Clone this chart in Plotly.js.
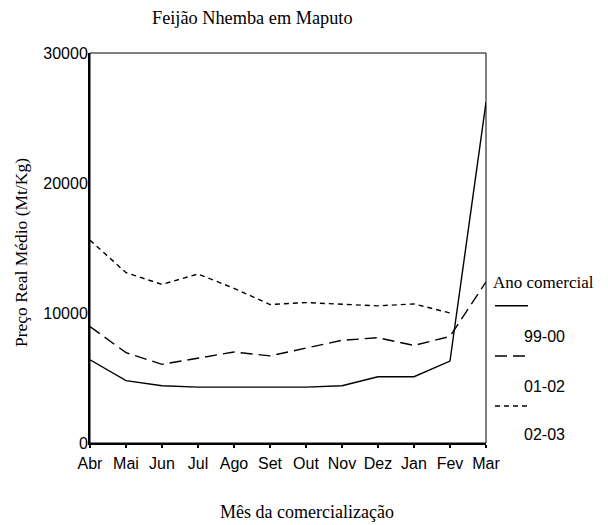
<!DOCTYPE html>
<html>
<head>
<meta charset="utf-8">
<script src="https://cdn.plot.ly/plotly-3.0.1.min.js"></script>
<style>html,body{margin:0;padding:0;background:#fff;}#chart{width:608px;height:525px;}</style>
</head>
<body>
<div id="chart"></div>
<script>
const months = ['Abr','Mai','Jun','Jul','Ago','Set','Out','Nov','Dez','Jan','Fev','Mar'];
const seriesNames = ['99-00','01-02','02-03'];
const s9900 = [6400, 4800, 4400, 4300, 4300, 4300, 4300, 4400, 5100, 5100, 6300, 26200];
const s0102 = [8950, 6950, 6050, 6500, 7000, 6700, 7300, 7900, 8100, 7500, 8200, 12400];
const s0203 = [15600, 13100, 12200, 13000, 11900, 10650, 10800, 10700, 10550, 10700, 10000, null];
const yTicks = [0, 10000, 20000, 30000];
const dashes = ['solid', '12px,6px', '5px,4px'];

const serif = '"Liberation Serif", "Times New Roman", serif';
const sans = '"Liberation Sans", Arial, sans-serif';

const xIdx = months.map((m, i) => i);
const data = [s9900, s0102, s0203].map((vals, k) => ({
  type: 'scatter', mode: 'lines', name: seriesNames[k],
  x: xIdx, y: vals,
  line: {color: '#000', width: 1.4, dash: dashes[k]},
  connectgaps: false, showlegend: false
}));

// Legend drawn manually (paper coords)
const legendTextY = [0.2726, 0.146, 0.023];
const legendLineY = [0.352, 0.223, 0.0949];
const shapes = [{type: 'rect', xref: 'paper', yref: 'paper', x0: 0, x1: 1, y0: 0, y1: 1, line: {color: '#000', width: 1}}];
const annotations = [{
  text: 'Ano comercial', xref: 'paper', yref: 'paper', x: 1.0126, y: 0.4128,
  xanchor: 'left', yanchor: 'middle', showarrow: false, font: {family: serif, size: 17, color: '#000'}
}, {
  text: 'Mês da comercialização', xref: 'paper', yref: 'paper', x: (307 - 90) / 396, y: (443 - 512) / 390,
  xanchor: 'center', yanchor: 'middle', showarrow: false, font: {family: serif, size: 18, color: '#000'}
}, {
  text: 'Preço Real Médio (Mt/Kg)', xref: 'paper', yref: 'paper', x: (21 - 90) / 396, y: (443 - 253) / 390,
  xanchor: 'center', yanchor: 'middle', textangle: -90, showarrow: false, font: {family: serif, size: 17.5, color: '#000'}
}];
seriesNames.forEach((n, k) => {
  shapes.push({type: 'line', xref: 'paper', yref: 'paper', x0: 1.0227, x1: 1.106,
    y0: legendLineY[k], y1: legendLineY[k], line: {color: '#000', width: 1.4, dash: dashes[k]}});
  annotations.push({text: n, xref: 'paper', yref: 'paper', x: 1.0909, y: legendTextY[k],
    xanchor: 'left', yanchor: 'middle', showarrow: false, font: {family: sans, size: 16, color: '#000'}});
});

const layout = {
  width: 608, height: 525,
  margin: {l: 90, r: 122, t: 53, b: 82},
  paper_bgcolor: '#fff', plot_bgcolor: '#fff',
  showlegend: false,
  title: {text: 'Feijão Nhemba em Maputo', font: {family: serif, size: 18.3, color: '#000'},
    xref: 'paper', x: 0.1566, xanchor: 'left', yref: 'container', y: 1 - 18/525, yanchor: 'middle'},
  xaxis: {
    range: [0, 11], tickvals: xIdx, ticktext: months,
    showgrid: false, zeroline: false, showline: true, linecolor: '#000', linewidth: 2,
    ticks: 'outside', ticklen: 3, tickwidth: 2, tickcolor: '#000',
    tickfont: {family: sans, size: 16, color: '#000'},
    ticklabelstandoff: 2,
    automargin: false
  },
  yaxis: {
    range: [0, 30000], tickvals: yTicks, ticktext: yTicks.map(String),
    showgrid: false, zeroline: false, showline: true, linecolor: '#000', linewidth: 2,
    ticks: '', tickfont: {family: sans, size: 16, color: '#000'},
    ticklabelstandoff: -3,
    automargin: false
  },
  shapes: shapes,
  annotations: annotations
};

Plotly.newPlot('chart', data, layout, {displayModeBar: false, staticPlot: true});
</script>
</body>
</html>
